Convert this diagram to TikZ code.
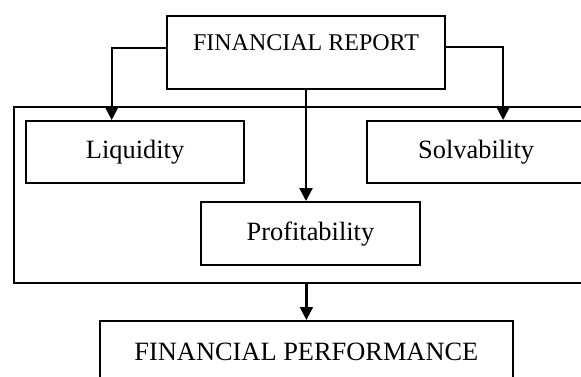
\documentclass[tikz,border=0pt]{standalone}
\usepackage{fontspec}
\setmainfont{Liberation Serif}
\usetikzlibrary{arrows.meta}
\begin{document}
\begin{tikzpicture}[x=0.5pt,y=-0.5pt,
        box/.style={draw=black,line width=1.1pt,inner sep=0pt,font=\fontsize{13.2}{16}\selectfont},
        link/.style={black,line width=1.1pt,-{Triangle[width=6.5pt,length=6.5pt]}}]
            \useasboundingbox (0,0) rectangle (581,376);
            \clip (0,0) rectangle (581,376);
            \node[box,anchor=north west,minimum width=296pt,minimum height=88pt] (ratios) at(12.7,106) {};
            \node[box,anchor=north,minimum width=139pt,text height=17pt,text depth=19.5pt,font=\fontsize{12}{14}\selectfont] (report) at(306,15) {FINANCIAL REPORT};
            \node[box,anchor=north west,minimum width=109pt,minimum height=31pt] (liq) at(25,120) {Liquidity};
            \node[box,anchor=north west,minimum width=109pt,minimum height=31pt] (solv) at(366,120) {Solvability};
            \node[box,anchor=north west,minimum width=109.3pt,minimum height=31.5pt] (prof) at(200,201) {Profitability};
            \node[box,anchor=north west,minimum width=206.3pt,minimum height=31pt] (perf) at(99,320) {FINANCIAL PERFORMANCE};
            \draw[link] ([yshift=2.2pt]report.west) -| ([xshift=-11.7pt]liq.north);
            \draw[link] ([yshift=2.7pt]report.east) -| ([xshift=13.5pt]solv.north);
            \draw[link] (report.south) -- (report.south |- prof.north);
            \draw[link] (ratios.south -| perf.north) -- (perf.north);
        \end{tikzpicture}
\end{document}
